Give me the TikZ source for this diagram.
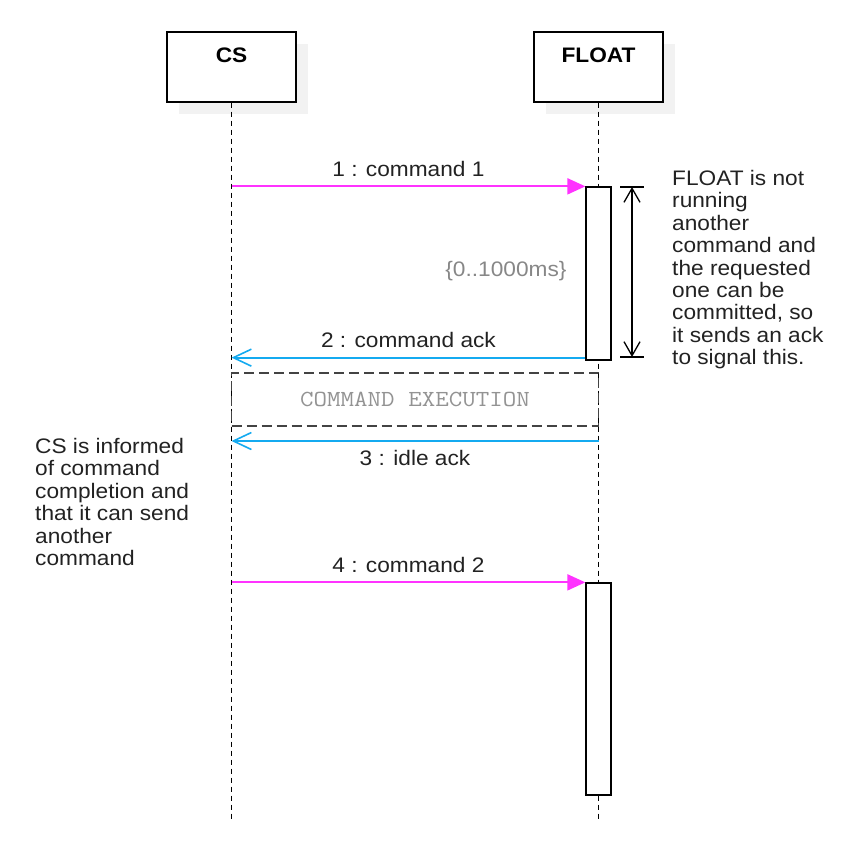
\documentclass[tikz,border=0pt]{standalone}
\usepackage{fontspec}
\setmainfont{Liberation Sans}[FakeStretch=1.08]
\setmonofont{Latin Modern Mono}[FakeStretch=1.14]
\usetikzlibrary{arrows.meta,shadows}

\definecolor{msgpink}{RGB}{255,51,255}
\definecolor{msgblue}{RGB}{20,170,240}
\definecolor{shadowgrey}{RGB}{242,242,242}
\definecolor{labelgrey}{RGB}{135,135,135}
\definecolor{darktext}{RGB}{34,34,34}
\newcommand{\txtsize}{\fontsize{21}{22.4}\selectfont}

\begin{document}
\begin{tikzpicture}[x=1pt,y=-1pt,
  actor/.style={draw, line width=1.3pt, fill=white, minimum width=129pt,
    inner xsep=0pt, inner ysep=0pt, text height=30pt, text depth=40pt,
    font=\bfseries\txtsize,
    drop shadow={shadow xshift=12pt, shadow yshift=-12pt, fill=shadowgrey, opacity=1}},
  life/.style={line width=1.2pt, dash pattern=on 5pt off 4pt},
  act/.style={draw, line width=1.3pt, fill=white, minimum width=25pt, inner sep=0pt},
  call/.style={msgpink, line width=2pt, -{Triangle[length=18pt,width=16pt]}},
  reply/.style={msgblue, line width=2pt, -{Straight Barb[length=18pt,width=17pt,line width=1.6pt]}},
  msg/.style={font=\txtsize, text=darktext, anchor=base},
  note/.style={font=\txtsize, text=darktext, align=left, inner sep=0pt},
  frame/.style={draw=darktext!85, line width=1.1pt, dash pattern=on 10pt off 5pt,
    minimum width=367pt, minimum height=53pt, text=labelgrey!90,
    font=\ttfamily\fontsize{23}{24}\selectfont}
]
\useasboundingbox (0,0) rectangle (866,857);

% actors
\node[actor] (cs) at (231.5,67) {CS};
\node[actor] (float) at (598.5,67) {FLOAT};

% lifelines
\coordinate (csend) at (231.5,820);
\coordinate (floatend) at (598.5,820);
\draw[life] (cs.south) -- (csend);
\draw[life] (float.south) -- (floatend);

% execution section
\node[frame] (exec) at (415,399.5) {COMMAND EXECUTION};

% activation bars
\node[act, minimum height=173pt] (act1) at (598.5,273.5) {};
\node[act, minimum height=212pt] (act2) at (598.5,689) {};

% messages
\draw[call] (cs.south |- act1.north west) -- (act1.north west)
  node[msg, midway, yshift=10pt] {1 : command 1};

\coordinate (ack) at ([yshift=3pt]act1.south west);
\draw[reply] (ack) -- (cs.south |- ack)
  node[msg, midway, yshift=10pt] {2 : command ack};

\coordinate (idle) at (598.5,441);
\draw[reply] (idle) -- (cs.south |- idle)
  node[msg, midway, yshift=-24pt] {3 : idle ack};

\draw[call] (cs.south |- act2.north west) -- (act2.north west)
  node[msg, midway, yshift=10pt] {4 : command 2};

% duration of the first call
\coordinate (dtop) at (632,187);
\coordinate (dbot) at (632,357);
\draw[line width=1.3pt] ([xshift=-12pt]dtop) -- ([xshift=12pt]dtop);
\draw[line width=1.3pt] ([xshift=-12pt]dbot) -- ([xshift=12pt]dbot);
\draw[line width=1.3pt, {Straight Barb[length=14pt,width=16pt]}-{Straight Barb[length=14pt,width=16pt]}] (dtop) -- (dbot);
\node[msg, text=labelgrey, anchor=base east] (dur) at (570,276) {\{0..1000ms\}};

% notes
\node[note, anchor=north west] (floatnote) at (672,170)
  {FLOAT is not\\running\\another\\command and\\the requested\\one can be\\committed, so\\it sends an ack\\to signal this.};
\node[note, anchor=north west] (csnote) at (35,438)
  {CS is informed\\of command\\completion and\\that it can send\\another\\command};
\end{tikzpicture}
\end{document}
